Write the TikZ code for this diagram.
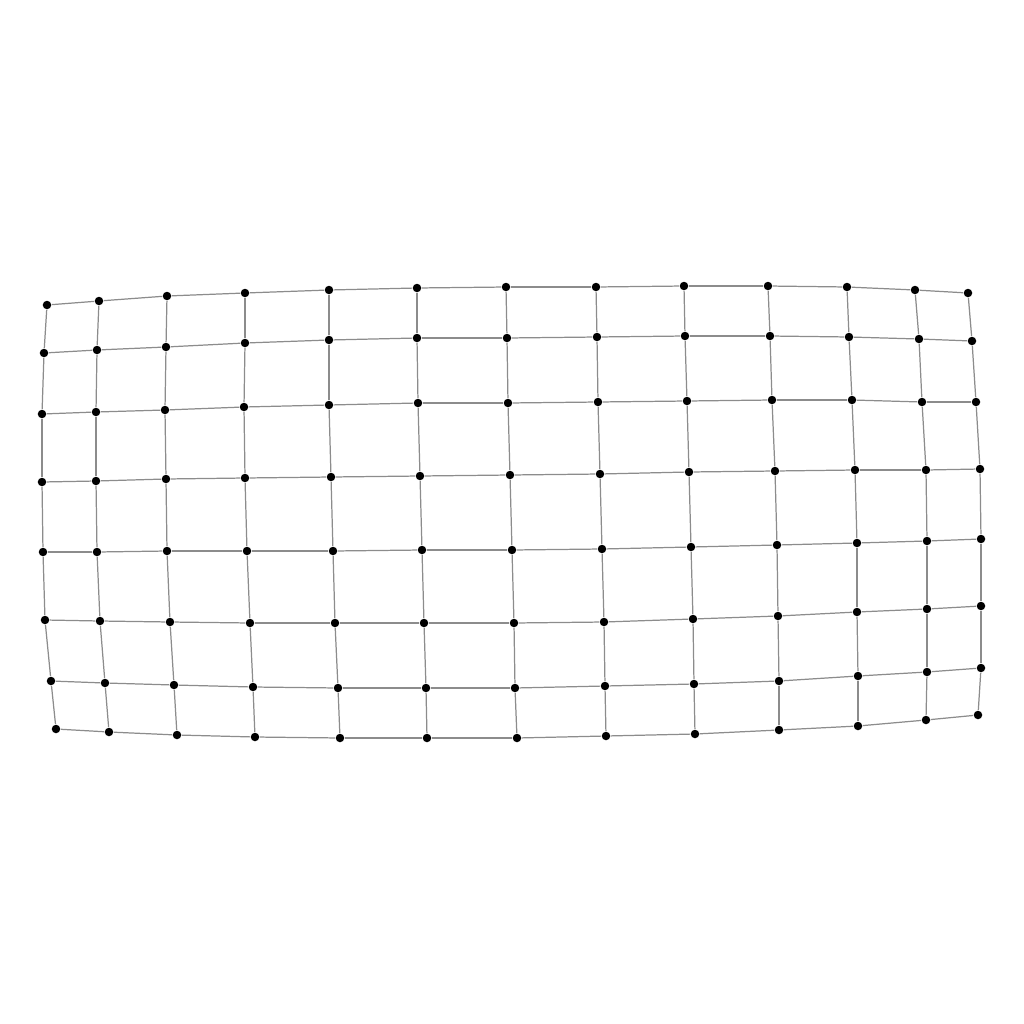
\documentclass[tikz,border=0pt]{standalone}
\usepackage{tikz}
\usetikzlibrary{calc}
\tikzset{
  mesh/.style={
	x=0.01cm, y=-0.01cm, % one unit is one pixel, y runs down
	vertex/.style={circle, fill=black, inner sep=0pt, minimum size=0.085cm}, % the dots
	link/.style={draw=gray!90, line width=0.35pt}, % the grid edges
  }
}

\begin{document}
\begin{tikzpicture}[mesh]
\useasboundingbox (0,0) rectangle (1024,1024);

% rows of vertices, top to bottom
\foreach \x/\y [count=\c] in {47/305, 99/301, 167/296, 245/293, 329/290, 417/288, 506/287, 596/287, 684/286, 768/286, 847/287, 915/290, 968/293}
  \node[vertex] (v1-\c) at (\x,\y) {};
\foreach \x/\y [count=\c] in {44/353, 97/350, 166/347, 245/343, 329/340, 417/338, 507/338, 597/337, 685/336, 770/336, 849/337, 919/339, 972/341}
  \node[vertex] (v2-\c) at (\x,\y) {};
\foreach \x/\y [count=\c] in {42/414, 96/412, 165/410, 244/407, 329/405, 418/403, 508/403, 598/402, 687/401, 772/400, 852/400, 922/402, 976/402}
  \node[vertex] (v3-\c) at (\x,\y) {};
\foreach \x/\y [count=\c] in {42/482, 96/481, 166/479, 245/478, 331/477, 420/476, 510/475, 600/474, 689/472, 775/471, 855/470, 926/470, 980/469}
  \node[vertex] (v4-\c) at (\x,\y) {};
\foreach \x/\y [count=\c] in {43/552, 97/552, 167/551, 247/551, 333/551, 422/550, 512/550, 602/549, 691/547, 777/545, 857/543, 927/541, 981/539}
  \node[vertex] (v5-\c) at (\x,\y) {};
\foreach \x/\y [count=\c] in {45/620, 100/621, 170/622, 250/623, 335/623, 424/623, 514/623, 604/622, 693/619, 778/616, 857/612, 927/609, 981/606}
  \node[vertex] (v6-\c) at (\x,\y) {};
\foreach \x/\y [count=\c] in {51/681, 105/683, 174/685, 253/687, 338/688, 426/688, 515/688, 605/686, 694/684, 779/681, 858/676, 927/672, 981/668}
  \node[vertex] (v7-\c) at (\x,\y) {};
\foreach \x/\y [count=\c] in {56/729, 109/732, 177/735, 255/737, 340/738, 427/738, 517/738, 606/736, 695/734, 779/730, 858/726, 926/720, 978/715}
  \node[vertex] (v8-\c) at (\x,\y) {};

% horizontal edges
\foreach \r in {1,...,8}
  \foreach \c [remember=\c as \p (initially 1)] in {2,...,13}
    \draw[link] (v\r-\p) -- (v\r-\c);
% vertical edges
\foreach \r [remember=\r as \q (initially 1)] in {2,...,8}
  \foreach \c in {1,...,13}
    \draw[link] (v\q-\c) -- (v\r-\c);
\end{tikzpicture}
\end{document}
